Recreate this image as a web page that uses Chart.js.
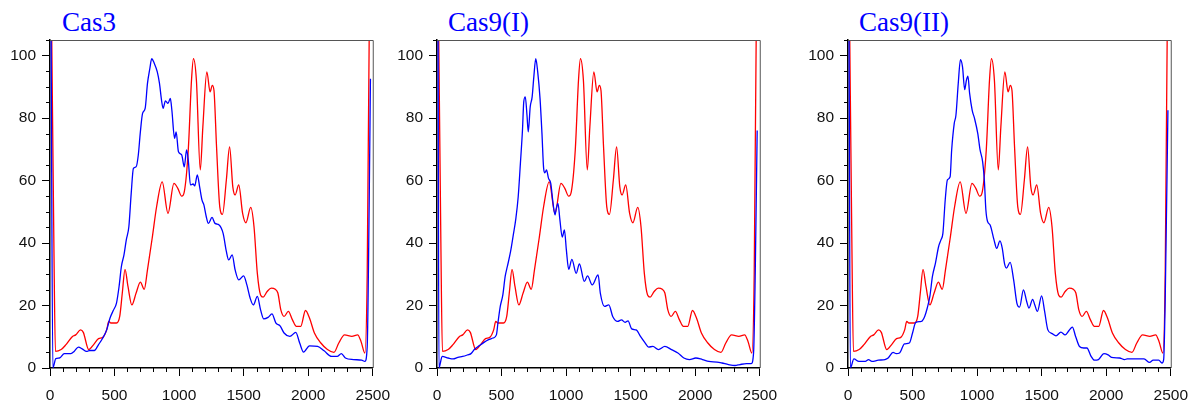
<!DOCTYPE html>
<html>
<head>
<meta charset="utf-8">
<script src="https://cdn.jsdelivr.net/npm/chart.js@4.4.0/dist/chart.umd.min.js"></script>
<style>
body { margin: 0; background: #fff; width: 1194px; height: 403px; position: relative; overflow: hidden; }
canvas { position: absolute; top: 0; }
.ttl { position: absolute; top: 9px; font-family: "Liberation Serif", serif; font-size: 27px; line-height: 27px; color: #0000ff; white-space: nowrap; }
</style>
</head>
<body>
<div class="ttl" id="t0" style="left:62px"></div>
<div class="ttl" id="t1" style="left:448px"></div>
<div class="ttl" id="t2" style="left:859px"></div>
<canvas id="c0" width="400" height="403" style="left:0px"></canvas>
<canvas id="c1" width="400" height="403" style="left:387px"></canvas>
<canvas id="c2" width="400" height="403" style="left:798px"></canvas>
<script>
var titles = ["Cas3", "Cas9(I)", "Cas9(II)"];
var xTicks = [0, 500, 1000, 1500, 2000, 2500];
var yTicks = [0, 20, 40, 60, 80, 100];

// red curve, same one in all three panels
var redX = [12, 30, 42, 86, 124, 174, 199, 237, 258, 300, 338, 376, 409, 439, 455, 472, 515, 540, 560, 581, 604, 634, 667, 700, 730, 755, 793, 826, 869, 914, 960, 990, 1020, 1040, 1071, 1096, 1111, 1134, 1164, 1184, 1215, 1240, 1257, 1270, 1290, 1315, 1336, 1366, 1391, 1416, 1434, 1462, 1492, 1517, 1555, 1580, 1606, 1631, 1651, 1682, 1714, 1745, 1765, 1788, 1813, 1846, 1878, 1909, 1942, 1979, 2010, 2048, 2098, 2149, 2199, 2237, 2282, 2338, 2383, 2409, 2439, 2457, 2472, 2480];
var redY = [112, 40, 5.3, 5.9, 7.5, 10.1, 10.6, 12.2, 11.4, 5.9, 7.5, 9.4, 9.8, 12.2, 14.9, 14.4, 14.4, 16.5, 24, 31.6, 26.1, 20.2, 24, 27.5, 25.2, 31.4, 42, 51.7, 59.6, 49.5, 59.1, 57.5, 55, 56.4, 69.8, 92.1, 99, 92.1, 63.4, 77.2, 94.8, 88.4, 90.5, 88.9, 70.8, 51.6, 49.2, 60.2, 70.8, 58, 55.4, 58.6, 49.5, 46.5, 51.4, 45.3, 30.3, 23.4, 22.7, 24.5, 25.6, 25.2, 24, 18.6, 16.5, 18.1, 15.4, 13.3, 13.3, 18.4, 16, 11.2, 8, 5.9, 5, 8, 10.6, 10.1, 10.6, 8.5, 4.8, 30, 104, 115];

// blue curves
var cas3X = [8, 22, 45, 73, 111, 162, 187, 220, 250, 283, 308, 343, 376, 409, 439, 465, 490, 515, 535, 553, 573, 591, 611, 629, 646, 667, 684, 700, 717, 737, 755, 773, 788, 806, 831, 848, 864, 876, 894, 914, 932, 944, 965, 977, 995, 1020, 1040, 1058, 1071, 1088, 1108, 1121, 1141, 1159, 1177, 1192, 1210, 1227, 1255, 1278, 1310, 1341, 1366, 1384, 1411, 1434, 1462, 1500, 1525, 1550, 1575, 1606, 1631, 1656, 1689, 1719, 1750, 1782, 1813, 1858, 1904, 1934, 1964, 2010, 2073, 2123, 2181, 2224, 2257, 2288, 2351, 2414, 2439, 2457, 2472, 2482];
var cas3Y = [112, 0, 3, 3.2, 4.6, 4.6, 5.3, 6.7, 6.1, 5.3, 5.6, 5.6, 7.5, 9.6, 12.2, 16, 18.4, 20.8, 26.1, 32.5, 36.2, 41, 45.3, 55.9, 63.9, 64.4, 68.2, 75.6, 81.5, 83.1, 91.1, 95.8, 99, 97.7, 94.8, 91.1, 85.7, 83.1, 85.5, 84.7, 86.3, 82.5, 73.5, 75.6, 69.2, 68.2, 64.4, 69.8, 66.6, 58.6, 58.9, 58.3, 61.8, 58, 53.8, 52.2, 48.5, 46.3, 48.2, 46.3, 45.8, 43.1, 37.3, 34.6, 36.2, 31.4, 28.2, 29.5, 26.6, 22.4, 20.2, 22.9, 18.6, 15.7, 16.2, 17.3, 14.4, 13.5, 11.2, 10.1, 11.4, 8, 5.1, 7.1, 6.9, 5.5, 3.7, 3.7, 4.6, 3.2, 2.7, 2.5, 2.1, 6.9, 51.6, 92.6];

var cas9aX = [8, 15, 40, 86, 124, 162, 199, 237, 263, 293, 326, 364, 396, 434, 460, 472, 490, 510, 528, 545, 570, 591, 611, 629, 646, 662, 672, 684, 697, 707, 722, 737, 750, 765, 780, 798, 813, 826, 836, 848, 864, 881, 899, 914, 924, 937, 952, 970, 987, 1002, 1020, 1045, 1078, 1103, 1141, 1166, 1202, 1248, 1265, 1298, 1331, 1361, 1399, 1429, 1457, 1480, 1508, 1543, 1576, 1609, 1639, 1672, 1715, 1765, 1816, 1866, 1912, 1955, 2005, 2056, 2106, 2169, 2207, 2258, 2308, 2346, 2397, 2434, 2452, 2465, 2480];
var cas9aY = [112, 0, 3.7, 3.2, 2.9, 3.4, 3.7, 4.2, 4.6, 6.1, 7.1, 8.2, 9, 9.6, 10.6, 14.4, 19.7, 23.4, 29.3, 32.5, 37.3, 42.6, 47.9, 54.8, 65.5, 76.1, 85.2, 86.8, 80.9, 75.6, 83.6, 86.8, 93.2, 99, 94.8, 86.3, 75.1, 63.9, 62.5, 63.4, 60.7, 59.1, 52.7, 49, 51.1, 52.7, 47.4, 41.9, 44.2, 37.8, 31.6, 34.8, 30.3, 33.3, 27.7, 29.5, 26.6, 29.8, 24, 19.7, 20.2, 16.5, 14.9, 15.4, 14.6, 15.1, 12.5, 12.2, 10.1, 8.2, 6.7, 6.9, 5.9, 6.9, 5.9, 4.8, 3.2, 2.7, 3.2, 2.7, 2.1, 1.9, 1.6, 1.1, 0.8, 1.1, 1.4, 1.4, 4.8, 30.3, 76];

var cas9bX = [8, 18, 46, 84, 134, 159, 185, 235, 286, 311, 349, 374, 399, 437, 475, 500, 525, 568, 594, 614, 634, 654, 677, 702, 720, 735, 753, 770, 791, 803, 823, 836, 854, 871, 887, 904, 917, 929, 942, 962, 980, 1005, 1023, 1043, 1056, 1068, 1081, 1101, 1131, 1152, 1177, 1195, 1212, 1227, 1256, 1283, 1308, 1329, 1359, 1384, 1402, 1430, 1447, 1467, 1500, 1523, 1548, 1581, 1611, 1649, 1682, 1712, 1738, 1763, 1793, 1826, 1851, 1881, 1909, 1940, 1982, 2015, 2041, 2104, 2142, 2162, 2243, 2293, 2336, 2364, 2407, 2432, 2445, 2457, 2478];
var cas9bY = [112, 0, 2.9, 2.1, 2.1, 2.7, 2.1, 2.5, 2.7, 3.2, 5, 4.6, 4.8, 7.7, 8, 11.2, 14.6, 14.9, 16.5, 19.2, 22.9, 29.3, 33.5, 38.9, 41, 43.1, 53.8, 60.2, 61.2, 69.8, 78.3, 80.9, 91.1, 98.7, 96.4, 89.1, 92.1, 93.4, 87.9, 82.5, 79.9, 75.1, 69.8, 66, 60.2, 50.6, 46.9, 45.8, 41, 38.3, 40.7, 38.3, 33.5, 32, 33.8, 28.2, 20.8, 19.5, 25, 21.3, 19.2, 22, 20.2, 18.1, 23.1, 18.1, 12.2, 11, 10.3, 11.5, 10.6, 12, 13.1, 10.1, 6.9, 6.4, 6.4, 3.9, 2.5, 2.7, 4.6, 4.2, 3.4, 3.2, 2.7, 2.9, 2.9, 2.9, 1.8, 2.5, 2.5, 1.6, 2.7, 21.8, 82.5];

var blueX = [cas3X, cas9aX, cas9bX];
var blueY = [cas3Y, cas9aY, cas9bY];

function pts(xs, ys) {
    return xs.map(function (x, i) { return { x: x, y: ys[i] }; });
}

// frame on top/right + the small minor ticks
var frame = {
    id: 'frame',
    afterDraw: function (chart) {
        var ctx = chart.ctx, a = chart.chartArea;
        var xs = chart.scales.x, ys = chart.scales.y;
        ctx.save();
        ctx.strokeStyle = '#555';
        ctx.lineWidth = 1;
        ctx.beginPath();
        ctx.moveTo(a.left, a.top + 0.5);
        ctx.lineTo(a.right + 0.5, a.top + 0.5);
        ctx.lineTo(a.right + 0.5, a.bottom);
        ctx.stroke();

        ctx.strokeStyle = '#000';
        ctx.beginPath();
        for (var v = 100; v < 2500; v += 100) {
            if (v % 500 == 0) continue;
            var px = Math.round(xs.getPixelForValue(v)) + 0.5;
            ctx.moveTo(px, a.bottom);
            ctx.lineTo(px, a.bottom + 4);
        }
        for (var w = 5; w <= 105; w += 5) {
            if (w % 20 == 0) continue;
            var py = Math.round(ys.getPixelForValue(w)) + 0.5;
            ctx.moveTo(a.left - 4, py);
            ctx.lineTo(a.left, py);
        }
        ctx.stroke();
        ctx.restore();
    }
};

var tickFont = { family: 'Liberation Sans', size: 15.5 };

for (let i = 0; i < 3; i++) {
    document.getElementById('t' + i).textContent = titles[i];
    var ctx = document.getElementById('c' + i).getContext('2d');
    new Chart(ctx, {
        type: 'line',
        data: {
            datasets: [{
                data: pts(blueX[i], blueY[i]),
                borderColor: '#0000ff'
            }, {
                data: pts(redX, redY),
                borderColor: '#ff0000'
            }]
        },
        options: {
            responsive: false,
            animation: false,
            devicePixelRatio: 1,
            layout: { padding: { left: 0, right: 20, top: 40, bottom: 0 }, autoPadding: false },
            elements: {
                point: { radius: 0 },
                line: { borderWidth: 1.3, cubicInterpolationMode: 'monotone', fill: false }
            },
            plugins: { legend: { display: false }, tooltip: { enabled: false } },
            scales: {
                x: {
                    type: 'linear', min: 0, max: 2500,
                    afterBuildTicks: function (s) { s.ticks = xTicks.map(function (v) { return { value: v }; }); },
                    afterFit: function (s) { s.height = 35; },
                    grid: { drawOnChartArea: false, tickLength: 8, color: '#000' },
                    border: { color: '#000', width: 1.5 },
                    ticks: { color: '#111', font: tickFont, padding: 10, maxRotation: 0, autoSkip: false,
                        callback: function (v) { return String(v); } }
                },
                y: {
                    min: 0, max: 105,
                    afterBuildTicks: function (s) { s.ticks = yTicks.map(function (v) { return { value: v }; }); },
                    afterFit: function (s) { s.width = 50; },
                    grid: { drawOnChartArea: false, tickLength: 8, color: '#000' },
                    border: { color: '#000', width: 1.5 },
                    ticks: { color: '#111', font: tickFont, padding: 6,
                        callback: function (v) { return String(v); } }
                }
            }
        },
        plugins: [frame]
    });
}
</script>
</body>
</html>
